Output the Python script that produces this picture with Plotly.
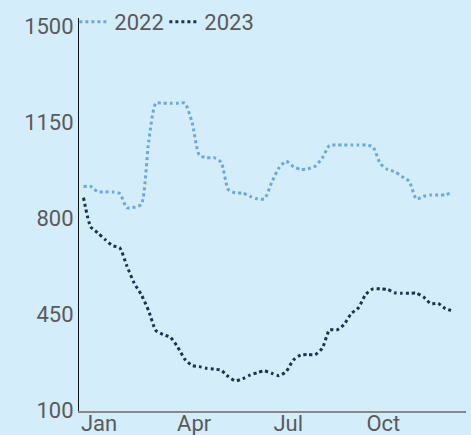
import pandas as pd
import plotly.graph_objects as go

weeks = pd.date_range("2023-01-01", periods=52, freq="7D")

series_2022 = [916, 916, 896, 896, 896, 890, 838, 840, 851, 1080,
               1220, 1220, 1220, 1220, 1220, 1150, 1030, 1021, 1021, 1005,
               905, 892, 892, 880, 871, 871, 930, 983, 1008, 988,
               978, 980, 990, 1020, 1066, 1067, 1067, 1067, 1067, 1067,
               1060, 1000, 978, 970, 952, 935, 870, 880, 885, 885,
               885, 895]

series_2023 = [875, 768, 746, 722, 700, 692, 625, 563, 520, 462,
               390, 375, 365, 330, 285, 262, 258, 252, 249, 245,
               222, 206, 214, 227, 236, 242, 234, 225, 240, 282,
               300, 302, 302, 325, 392, 392, 412, 452, 473, 522,
               542, 542, 540, 528, 526, 526, 526, 512, 488, 489,
               470, 462]

tick_dates = ["2023-01-16", "2023-04-18", "2023-07-18", "2023-10-18"]
tick_labels = ["Jan", "Apr", "Jul", "Oct"]
y_ticks = [100, 450, 800, 1150, 1500]

BG = "#d3edfa"
FONT = "Roboto, Arial, sans-serif"
TXT = "#5a5a5a"

fig = go.Figure()
fig.add_trace(go.Scatter(x=weeks, y=series_2022, name="2022", mode="lines",
                         line=dict(color="#6aa8e0", width=3, dash="dot", shape="spline", smoothing=0.6)))
fig.add_trace(go.Scatter(x=weeks, y=series_2023, name="2023", mode="lines",
                         line=dict(color="#1c3350", width=3, dash="dot", shape="spline", smoothing=0.6)))

fig.update_layout(
    width=471, height=435,
    margin=dict(l=79, r=5, t=18, b=24, autoexpand=False),
    paper_bgcolor=BG, plot_bgcolor=BG,
    font=dict(family=FONT, size=22, color=TXT),
    showlegend=True,
    legend=dict(orientation="h", x=-0.012, xanchor="left", yref="container", y=1 - 22 / 435,
                yanchor="middle", entrywidth=45,
                bgcolor="rgba(0,0,0,0)", font=dict(size=22, color=TXT)),
    xaxis=dict(range=["2022-12-27 15:00", "2024-01-06"], tickvals=tick_dates, ticktext=tick_labels,
               showgrid=False, zeroline=False, showline=True, linecolor="#888888", linewidth=2,
               ticks="", ticklabelstandoff=-8, tickfont=dict(size=22, color=TXT), automargin=False),
    yaxis=dict(range=[96, 1531], tickvals=y_ticks, showgrid=False, zeroline=False,
               showline=True, linecolor="#111111", linewidth=1, ticks="",
               tickfont=dict(size=22, color=TXT), automargin=False),
)

fig.write_html("out.html", config={"displayModeBar": False},
               post_script="document.body.style.margin='0';document.body.style.overflow='hidden';")
